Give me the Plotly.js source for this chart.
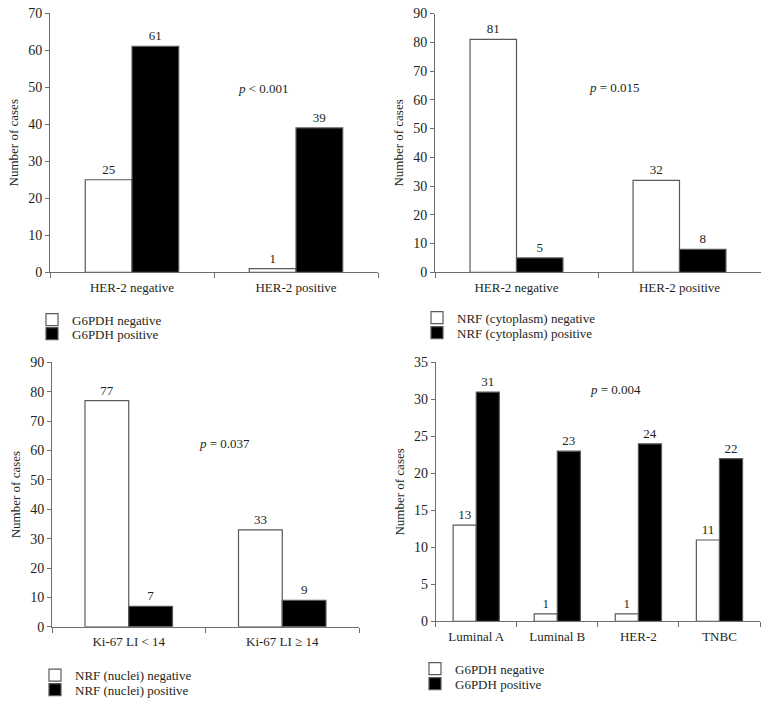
<!DOCTYPE html>
<html>
<head>
<meta charset="utf-8">
<script src="https://cdn.plot.ly/plotly-3.0.1.min.js"></script>
<style>
  html, body { margin: 0; padding: 0; background: #fff; }
  #chart { width: 769px; height: 705px; }
</style>
</head>
<body>
<div id="chart"></div>
<script>
// ---- Data ----
const cats1 = ["HER-2 negative", "HER-2 positive"];
const g6pdhNeg1 = [25, 1];
const g6pdhPos1 = [61, 39];

const cats2 = ["HER-2 negative", "HER-2 positive"];
const nrfCytoNeg = [81, 32];
const nrfCytoPos = [5, 8];

const cats3 = ["Ki-67 LI < 14", "Ki-67 LI ≥ 14"];
const nrfNucNeg = [77, 33];
const nrfNucPos = [7, 9];

const cats4 = ["Luminal A", "Luminal B", "HER-2", "TNBC"];
const g6pdhNeg4 = [13, 1, 1, 11];
const g6pdhPos4 = [31, 23, 24, 22];

const names1 = ["G6PDH negative", "G6PDH positive"];
const names2 = ["NRF (cytoplasm) negative", "NRF (cytoplasm) positive"];
const names3 = ["NRF (nuclei) negative", "NRF (nuclei) positive"];
const names4 = ["G6PDH negative", "G6PDH positive"];

const pTexts = ["<i>p</i> &lt; 0.001", "<i>p</i> = 0.015", "<i>p</i> = 0.037", "<i>p</i> = 0.004"];

// ---- Styling ----
const W = 769, H = 705;
const FONT = "Liberation Serif, Times New Roman, serif";
const TXT = "#231f20";
const AXC = "#6d6e71";
const px = v => v / W;
const py = v => 1 - v / H;

function barPair(cats, neg, pos, names, xa, ya, legA, legB) {
  const common = {
    type: "bar", x: cats, xaxis: xa, yaxis: ya,
    textposition: "outside", cliponaxis: false,
    textfont: { family: FONT, size: 13, color: TXT },
    hoverinfo: "none"
  };
  return [
    Object.assign({}, common, {
      y: neg, name: names[0], text: neg.map(String), legend: legA,
      marker: { color: "#ffffff", line: { color: "#58595b", width: 1.2 } }
    }),
    Object.assign({}, common, {
      y: pos, name: names[1], text: pos.map(String), legend: legB,
      marker: { color: "#000000", line: { color: "#58595b", width: 1.2 } }
    })
  ];
}

const data = [].concat(
  barPair(cats1, g6pdhNeg1, g6pdhPos1, names1, "x", "y", "legend", "legend2"),
  barPair(cats2, nrfCytoNeg, nrfCytoPos, names2, "x2", "y2", "legend3", "legend4"),
  barPair(cats3, nrfNucNeg, nrfNucPos, names3, "x3", "y3", "legend5", "legend6"),
  barPair(cats4, g6pdhNeg4, g6pdhPos4, names4, "x4", "y4", "legend7", "legend8")
);

function xAx(dom, anchor) {
  return {
    domain: dom, anchor: anchor, type: "category",
    showline: true, linecolor: AXC, linewidth: 1,
    ticks: "outside", tickson: "boundaries", ticklen: 5, tickcolor: AXC, tickwidth: 1,
    ticklabelstandoff: 3,
    tickfont: { family: FONT, size: 13, color: TXT },
    showgrid: false, zeroline: false, fixedrange: true
  };
}
function yAx(dom, anchor, max, dtick) {
  return {
    domain: dom, anchor: anchor, range: [0, max], dtick: dtick,
    showline: true, linecolor: AXC, linewidth: 1,
    ticks: "outside", ticklen: 4, tickcolor: AXC, tickwidth: 1,
    tickfont: { family: FONT, size: 14, color: TXT },
    showgrid: false, zeroline: false, fixedrange: true,
    title: { text: "Number of cases", font: { family: FONT, size: 13, color: TXT }, standoff: 6 }
  };
}
function leg(xpx, rowCenterPx) {
  return {
    x: px(xpx), y: py(rowCenterPx - 11), xanchor: "left", yanchor: "top",
    bgcolor: "rgba(0,0,0,0)", borderwidth: 0,
    font: { family: FONT, size: 13, color: TXT }
  };
}
function pAnn(text, xref, yref, xfrac, yval) {
  return {
    text: text, xref: xref + " domain", yref: yref, x: xfrac, y: yval,
    showarrow: false, font: { family: FONT, size: 13, color: TXT },
    xanchor: "center", yanchor: "middle"
  };
}

const layout = {
  width: W, height: H,
  margin: { l: 0, r: 0, t: 0, b: 0 },
  paper_bgcolor: "#ffffff", plot_bgcolor: "#ffffff",
  barmode: "group", bargap: 0.43, bargroupgap: 0,
  showlegend: true,
  font: { family: FONT, size: 13, color: TXT },
  xaxis:  xAx([px(50), px(378)], "y"),
  yaxis:  yAx([py(273.5), py(13.2)], "x", 70, 10),
  xaxis2: xAx([px(435), px(761)], "y2"),
  yaxis2: yAx([py(273.5), py(13.6)], "x2", 90, 10),
  xaxis3: xAx([px(52), px(359)], "y3"),
  yaxis3: yAx([py(629.5), py(364)], "x3", 90, 10),
  xaxis4: xAx([px(435.7), px(760)], "y4"),
  yaxis4: yAx([py(624), py(364)], "x4", 35, 5),
  legend:  leg(32, 317),
  legend2: leg(32, 331),
  legend3: leg(417, 315),
  legend4: leg(417, 330),
  legend5: leg(35, 674),
  legend6: leg(35, 688.5),
  legend7: leg(415, 667.5),
  legend8: leg(415, 682.5),
  annotations: [
    pAnn(pTexts[0], "x", "y", 0.65, 49.7),
    pAnn(pTexts[1], "x2", "y2", 0.55, 64.3),
    pAnn(pTexts[2], "x3", "y3", 0.5625, 62.5),
    pAnn(pTexts[3], "x4", "y4", 0.554, 31.4)
  ]
};

Plotly.newPlot("chart", data, layout, { displayModeBar: false, staticPlot: true });
</script>
</body>
</html>
